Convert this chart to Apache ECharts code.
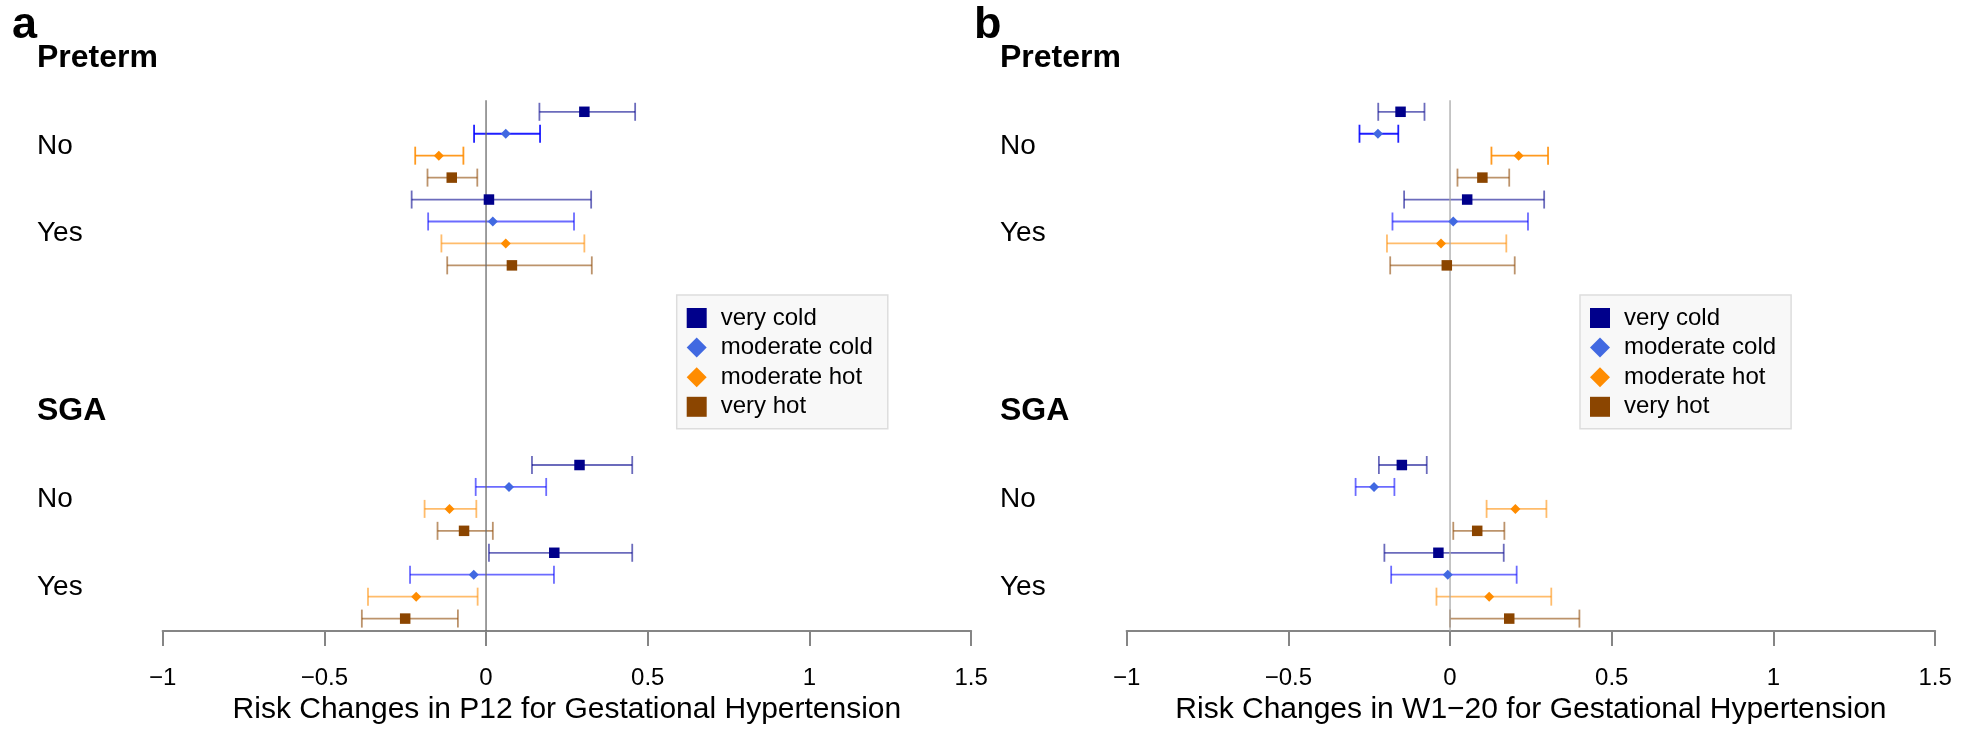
<!DOCTYPE html>
<html>
<head>
<meta charset="utf-8">
<script src="https://cdn.jsdelivr.net/npm/echarts@6/dist/echarts.min.js"></script>
<style>
  html, body { margin: 0; padding: 0; background: #fff; }
  #chart { width: 1973px; height: 730px; }
</style>
</head>
<body>
<div id="chart"></div>
<script>
// ---------------- DATA ----------------
const outcomes = ['Preterm', 'SGA'];
const groups = ['No', 'Yes'];
const exposures = ['very cold', 'moderate cold', 'moderate hot', 'very hot'];
const panelLetters = ['a', 'b'];
const xAxisTitles = ['Risk Changes in P12 for Gestational Hypertension',
                     'Risk Changes in W1\u221220 for Gestational Hypertension'];
const xTicks = [-1, -0.5, 0, 0.5, 1, 1.5];

// order: Preterm-No (4 exposures), Preterm-Yes, SGA-No, SGA-Yes
const aLow  = [0.165, -0.037, -0.219, -0.181, -0.230, -0.179, -0.138, -0.120, 0.142, -0.032, -0.190, -0.150, 0.009, -0.235, -0.365, -0.384];
const aEst  = [0.304, 0.061, -0.146, -0.106, 0.009, 0.021, 0.061, 0.080, 0.289, 0.071, -0.113, -0.068, 0.211, -0.038, -0.216, -0.250];
const aHigh = [0.461, 0.167, -0.070, -0.027, 0.325, 0.272, 0.304, 0.327, 0.452, 0.186, -0.030, 0.021, 0.452, 0.210, -0.026, -0.087];

const bLow  = [-0.222, -0.280, 0.128, 0.023, -0.142, -0.178, -0.195, -0.185, -0.220, -0.292, 0.113, 0.010, -0.203, -0.182, -0.042, 0.000];
const bEst  = [-0.153, -0.223, 0.212, 0.100, 0.053, 0.010, -0.028, -0.010, -0.149, -0.235, 0.202, 0.084, -0.036, -0.007, 0.121, 0.183];
const bHigh = [-0.079, -0.160, 0.303, 0.183, 0.291, 0.241, 0.174, 0.200, -0.072, -0.172, 0.298, 0.168, 0.166, 0.206, 0.313, 0.400];

// ---------------- STYLE / LAYOUT ----------------
const FONT = "'Liberation Sans', Arial, Helvetica, sans-serif";
const markerColors = ['#00008B', '#4169E1', '#FF8C00', '#8B4500'];
const barRGB = ['0,0,139', '0,0,255', '255,140,0', '139,69,0'];
const symbols = ['rect', 'diamond', 'diamond', 'rect'];
const BLOCK_STEP = 16.1, GROUP_STEP = 4;
const Y_MIN = -3.5, Y_MAX = 23.67, REF_TOP = -0.53;
const gridLefts = [162.6, 1126.6];
const labelMargins = [125.6, 126.6];
const legendLefts = [676.7, 1580];
const letterLefts = [12, 974];
const refColors = ['#6a6a6a', '#a8a8a8'];

const panels = [
  { low: aLow, est: aEst, high: aHigh },
  { low: bLow, est: bEst, high: bHigh }
];

function rowY(i) {
  const o = Math.floor(i / 8), g = Math.floor(i / 4) % 2, e = i % 4;
  return o * BLOCK_STEP + g * GROUP_STEP + e;
}

// y labels
const yLabelVals = [], yLabelTxt = {};
outcomes.forEach((o, oi) => {
  const base = oi * BLOCK_STEP;
  yLabelVals.push(base - 2.45); yLabelTxt[(base - 2.45).toFixed(2)] = '{t|' + o + '}';
  groups.forEach((g, gi) => {
    const v = base + gi * GROUP_STEP + 1.55;
    yLabelVals.push(v); yLabelTxt[v.toFixed(2)] = '{g|' + g + '}';
  });
});

const grids = [], xAxes = [], yAxes = [], series = [], legends = [], titles = [];

panels.forEach((p, pi) => {
  grids.push({ left: gridLefts[pi], width: 808.6, top: 35, bottom: 95, containLabel: false });
  xAxes.push({
    type: 'value', gridIndex: pi, min: -1, max: 1.5, interval: 0.5,
    name: xAxisTitles[pi], nameLocation: 'middle', nameGap: 62,
    nameTextStyle: { fontFamily: FONT, fontSize: 30, color: '#000' },
    axisLine: { show: true, onZero: false, lineStyle: { color: '#858585', width: 2 } },
    axisTick: { show: true, length: 15, lineStyle: { color: '#858585', width: 2 } },
    splitLine: { show: false },
    axisLabel: {
      margin: 35, fontFamily: FONT, fontSize: 24, color: '#000',
      formatter: v => String(v).replace('-', '\u2212')
    }
  });
  yAxes.push({
    type: 'value', gridIndex: pi, inverse: true, min: Y_MIN, max: Y_MAX,
    axisLine: { show: false }, axisTick: { show: false }, splitLine: { show: false },
    axisLabel: {
      show: true, customValues: yLabelVals, align: 'left', margin: labelMargins[pi],
      formatter: v => yLabelTxt[Number(v).toFixed(2)] || '',
      rich: {
        t: { fontFamily: FONT, fontSize: 32, fontWeight: 'bold', color: '#000' },
        g: { fontFamily: FONT, fontSize: 28, color: '#000' }
      }
    }
  });
  titles.push({
    text: panelLetters[pi], left: letterLefts[pi], top: 3, padding: 0,
    textStyle: { fontFamily: FONT, fontSize: 45, fontWeight: 'bold', color: '#000' }
  });

  // reference line at 0
  series.push({
    type: 'line', xAxisIndex: pi, yAxisIndex: pi, silent: true, z: 3,
    data: [[0, REF_TOP], [0, Y_MAX]], symbol: 'none',
    lineStyle: { color: refColors[pi], width: 1.3 }
  });

  exposures.forEach((name, e) => {
    const idx = [];
    for (let i = 0; i < 16; i++) if (i % 4 === e) idx.push(i);
    // error bars
    series.push({
      type: 'custom', name: name, xAxisIndex: pi, yAxisIndex: pi, z: 2, silent: true,
      encode: { x: [0, 1], y: 2 },
      data: idx.map(i => [p.low[i], p.high[i], rowY(i), i]),
      renderItem: (params, api) => {
        const y = api.value(2), i = api.value(3);
        const a = api.coord([api.value(0), y]);
        const b = api.coord([api.value(1), y]);
        const strong = (i < 4) && (e === 1 || e === 2);
        const alpha = strong ? 0.88 : 0.58;
        const style = { stroke: 'rgba(' + barRGB[e] + ',' + alpha + ')', lineWidth: 1.8 };
        const h = 9;
        return {
          type: 'group', children: [
            { type: 'line', shape: { x1: a[0], y1: a[1], x2: b[0], y2: b[1] }, style: style },
            { type: 'line', shape: { x1: a[0], y1: a[1] - h, x2: a[0], y2: a[1] + h }, style: style },
            { type: 'line', shape: { x1: b[0], y1: b[1] - h, x2: b[0], y2: b[1] + h }, style: style }
          ]
        };
      }
    });
    // point estimates
    series.push({
      type: 'scatter', name: name, xAxisIndex: pi, yAxisIndex: pi, z: 4,
      symbol: symbols[e], symbolSize: symbols[e] === 'rect' ? 10.5 : 10,
      itemStyle: { color: markerColors[e], opacity: 1 },
      data: idx.map(i => [p.est[i], rowY(i)])
    });
  });

  legends.push({
    orient: 'vertical', left: legendLefts[pi], top: 295,
    padding: [11, 15, 10, 10], itemWidth: 20, itemHeight: 20, itemGap: 5.6,
    backgroundColor: '#f8f8f8', borderColor: '#dddddd', borderWidth: 1.5,
    selectedMode: false,
    textStyle: { fontFamily: FONT, fontSize: 24, color: '#000', padding: [0, 0, 0, 9] },
    data: exposures.map((n, e) => ({ name: n, icon: symbols[e], itemStyle: { color: markerColors[e] } }))
  });
});

const chart = echarts.init(document.getElementById('chart'), null, { renderer: 'canvas' });
chart.setOption({
  animation: false,
  backgroundColor: '#ffffff',
  title: titles,
  grid: grids,
  xAxis: xAxes,
  yAxis: yAxes,
  legend: legends,
  series: series
});
</script>
</body>
</html>
